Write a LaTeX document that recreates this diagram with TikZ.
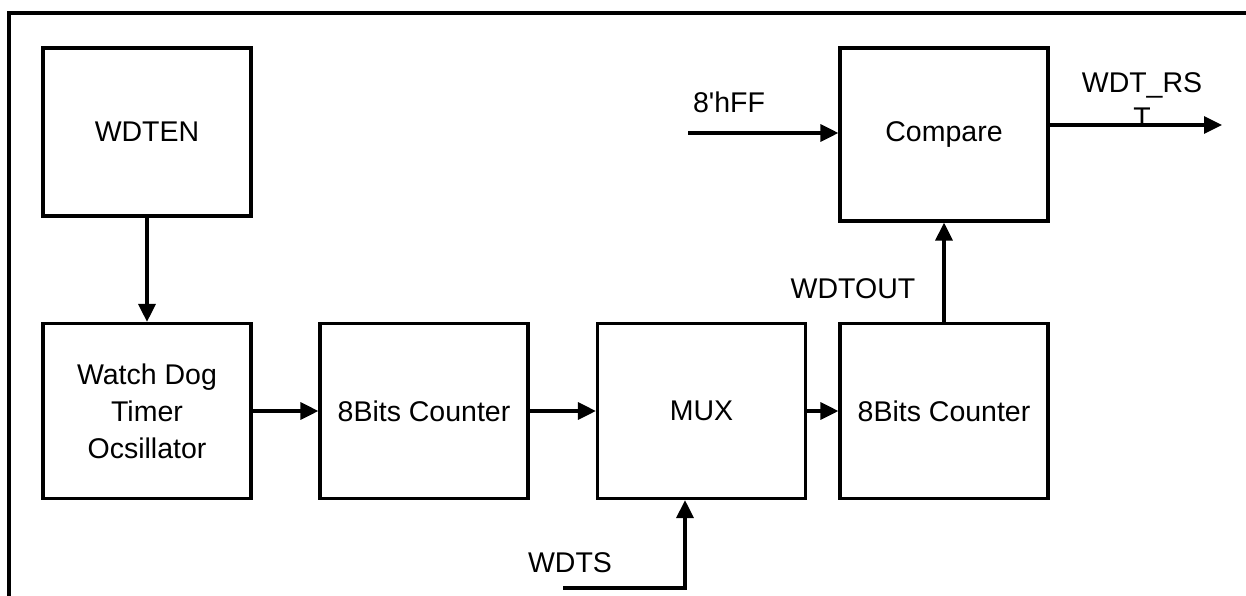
\documentclass[tikz,border=0pt]{standalone}
\usepackage{fontspec}
\setmainfont{Liberation Sans}
\newfontfamily\plainaf{Liberation Sans}
\usetikzlibrary{arrows.meta}
\begin{document}
\begin{tikzpicture}[x=1pt,y=-1pt,
  blk/.style={draw,line width=3.2pt,minimum width=208pt,inner sep=0pt,align=center,
    font=\fontsize{28.5}{37}\selectfont},
  lbl/.style={inner sep=0pt,align=center,font=\fontsize{28.5}{35}\selectfont},
  conn/.style={line width=3.2pt,-{Triangle[length=18pt,width=17pt]}},
  wire/.style={line width=3.2pt}]
\useasboundingbox (0,0) rectangle (1246,596);
\draw[wire] (9,596) -- (9,13) -- (1246,13);
\node[blk,minimum height=168pt] (wdten) at (147,132) {WDTEN};
\node[blk,minimum height=175pt] (wdo) at (147,411) {Watch Dog\\Timer\\Ocsillator};
\node[blk,minimum height=175pt] (c1) at (424,411) {8Bits Counter};
\node[blk,minimum height=175pt] (mux) at (701.5,411) {MUX};
\node[blk,minimum height=175pt] (c2) at (944,411) {8Bits Counter};
\node[blk,minimum height=173pt] (cmp) at (944,134.5) {Compare};
\coordinate (hff) at (688,133);
\coordinate (rst) at (1222,125);
\coordinate (wdts) at (563,588);
\draw[conn] (wdten) -- (wdo);
\draw[conn] (wdo) -- (c1);
\draw[conn] (c1) -- (mux);
\draw[conn] (mux) -- (c2);
\draw[conn] (c2) -- (cmp);
\draw[conn] (hff) -- (hff -| cmp.west);
\draw[conn] (cmp.east |- rst) -- (rst);
\draw[conn] (wdts) -- (wdts -| 685,0) -- (685,0 |- mux.south);
\node[lbl] (lhff) at (729,102) {\plainaf 8'hFF};
\node[lbl] (lrst) at (1142,100) {WDT\_RS\\T};
\node[lbl] (lwdts) at (570,563) {WDTS};
\node[lbl] (lout) at (853,289) {WDTOUT};
\end{tikzpicture}
\end{document}
